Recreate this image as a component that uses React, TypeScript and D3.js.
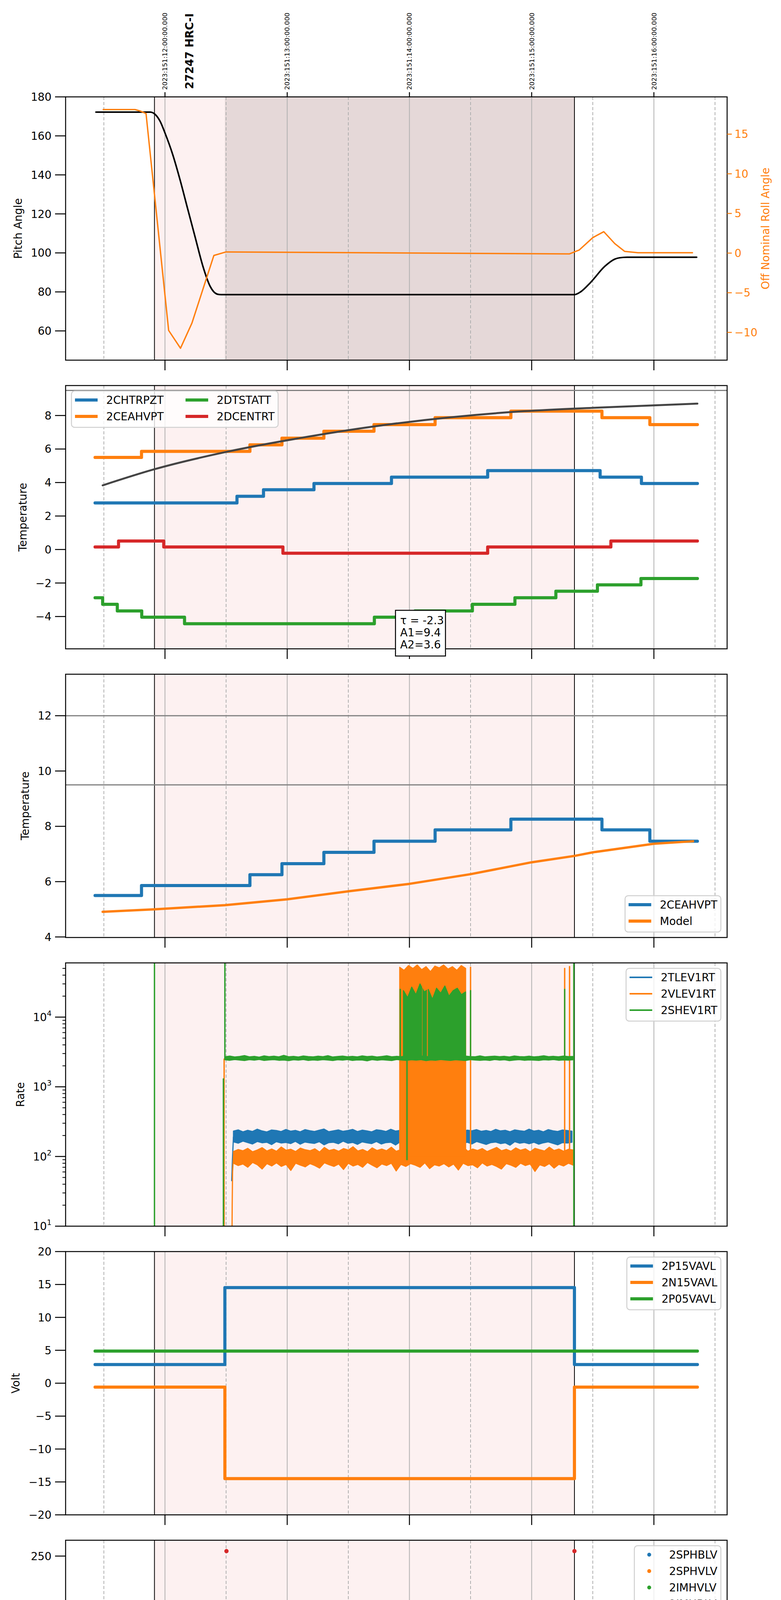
import React, { useEffect, useRef } from "react";
import * as d3 from "d3";

// ---------------- data ----------------
// time axis: decimal hours, local (08h == 2023:151:12:00:00 UTC)
const timeDomain = [7.187, 12.599];
const hourTicks = [8, 9, 10, 11, 12];
const hourLabels = ["08h", "09h", "10h", "11h", "12h"];
const halfHourTicks = [7.5, 8.5, 9.5, 10.5, 11.5, 12.5];
const halfHourLabel = "30";
const topTimeLabels = [
	"2023:151:12:00:00.000",
	"2023:151:13:00:00.000",
	"2023:151:14:00:00.000",
	"2023:151:15:00:00.000",
	"2023:151:16:00:00.000",
];
const obsLabel = "27247 HRC-I";
const obsLabelTime = 8.2;
const dateLabel = "2023-05-31 (151)";
const obsSpan = [7.914, 11.35];
const scienceSpan = [8.49, 11.35];

// panel 1: pitch / roll
const pitchAngle = [
	[7.435, 172.2], [7.88, 172.2], [7.92, 171], [7.96, 167.5], [8.0, 161.5], [8.063, 150.5],
	[8.125, 137.1], [8.186, 122.5], [8.248, 107.8], [8.31, 93.2], [8.37, 82.8], [8.43, 78.8],
	[8.46, 78.6], [11.35, 78.6], [11.40, 80], [11.48, 84.7], [11.60, 93.2], [11.68, 96.8],
	[11.72, 97.5], [11.78, 97.8], [12.35, 97.8],
];
const rollAngle = [
	[7.49, 18.1], [7.755, 18.1], [7.80, 17.9], [7.845, 17.6], [8.03, -9.75], [8.127, -12.0],
	[8.22, -8.85], [8.40, -0.3], [8.50, 0.15], [11.31, -0.1], [11.39, 0.4], [11.50, 1.95],
	[11.59, 2.7], [11.68, 1.2], [11.76, 0.22], [11.87, 0.05], [12.32, 0.05],
];

// panel 2: temperatures (step telemetry)
const chtrpzt = [
	[7.428, 2.78], [8.589, 3.18], [8.806, 3.57], [9.219, 3.94], [9.853, 4.32], [10.64, 4.71],
	[11.56, 4.32], [11.898, 3.94], [12.356, 3.94],
];
const ceahvpt = [
	[7.428, 5.5], [7.808, 5.86], [8.695, 6.25], [8.957, 6.65], [9.30, 7.06], [9.71, 7.46],
	[10.21, 7.87], [10.83, 8.26], [11.575, 7.87], [11.967, 7.46], [12.356, 7.46],
];
const dtstatt = [
	[7.428, -2.88], [7.49, -3.27], [7.61, -3.67], [7.81, -4.04], [8.16, -4.43], [9.713, -4.04],
	[10.045, -3.67], [10.515, -3.27], [10.863, -2.88], [11.198, -2.49], [11.538, -2.11],
	[11.894, -1.73], [12.356, -1.73],
];
const dcentrt = [
	[7.428, 0.15], [7.62, 0.51], [7.99, 0.15], [8.965, -0.22], [10.64, 0.15], [11.648, 0.51],
	[12.356, 0.51],
];
const expFit = [
	[7.49, 3.83], [7.917, 4.8], [8.49, 5.81], [9.1, 6.65], [9.72, 7.36], [10.33, 7.89],
	[10.94, 8.26], [11.56, 8.48], [12.356, 8.71],
];
const fitText = ["τ = -2.3", "A1=9.4", "A2=3.6"];
const fitTextAt = [9.886, -3.63];
const tempLimits = [9.5, 12];

// panel 3: CEA HV temperature vs model
const ceaModel = [
	[7.49, 4.91], [7.92, 5.0], [8.49, 5.15], [9.0, 5.36], [9.5, 5.65], [10.0, 5.92],
	[10.5, 6.27], [11.0, 6.7], [11.35, 6.93], [11.5, 7.06], [12.0, 7.37], [12.32, 7.46],
];

// panel 4: rates (noise envelopes, one value per sample)
const blueRateSpan = [8.56, 11.33];
const blueRateHi = [232, 241, 226, 238, 229, 247, 233, 225, 240, 236, 228, 244, 231, 237, 226, 243, 235, 229, 239, 248, 227, 234, 241, 230, 236, 245, 228, 239, 233, 226, 242, 237, 229, 246, 232, 238, 227, 240, 235, 231, 244, 229, 236, 241, 228, 237, 249, 232, 226, 239, 234, 243, 230, 236, 228, 245, 233, 238, 227, 241, 235, 230, 247, 232, 238, 226, 243, 234, 229, 240, 236, 231];
const blueRateLo = [162, 155, 166, 158, 151, 164, 157, 160, 148, 163, 156, 159, 153, 165, 150, 161, 157, 154, 163, 147, 158, 160, 152, 166, 155, 159, 149, 162, 157, 153, 164, 151, 158, 160, 146, 163, 155, 158, 152, 161, 156, 150, 165, 154, 159, 148, 162, 157, 153, 160, 151, 164, 156, 149, 158, 161, 153, 157, 145, 163, 155, 159, 152, 160, 150, 157, 162, 154, 147, 158, 156, 160];
const orangeRateSpan = [8.56, 11.34];
const orangeRateHi = [118, 126, 121, 131, 117, 124, 134, 120, 128, 119, 137, 123, 127, 118, 132, 125, 121, 129, 116, 135, 122, 127, 119, 130, 124, 138, 120, 126, 117, 133, 122, 128, 121, 136, 119, 125, 131, 118, 127, 123, 134, 120, 126, 129, 117, 132, 124, 121, 137, 119, 128, 122, 130, 118, 126, 135, 121, 127, 119, 133, 123, 129, 117, 131, 125, 120, 136, 122, 128, 119, 127, 124];
const orangeRateLo = [80, 74, 78, 70, 82, 76, 66, 79, 73, 81, 72, 77, 63, 80, 75, 71, 79, 74, 68, 81, 76, 72, 78, 65, 80, 73, 77, 70, 82, 75, 69, 78, 74, 80, 62, 77, 72, 79, 75, 70, 81, 67, 76, 73, 79, 71, 78, 64, 80, 74, 76, 69, 81, 73, 77, 72, 66, 79, 75, 70, 80, 74, 78, 61, 76, 72, 79, 68, 77, 73, 80, 75];
const greenRateSpan = [8.49, 11.34];
const greenRateHi = [2700, 2760, 2680, 2730, 2810, 2690, 2740, 2670, 2780, 2710, 2750, 2690, 2830, 2700, 2740, 2680, 2770, 2720, 2690, 2750, 2710, 2800, 2680, 2730, 2760, 2700, 2740, 2690, 2780, 2720, 2750, 2680, 2730, 2790, 2700, 2740, 2710, 2760, 2690, 2730, 2770, 2700, 2750, 2680, 2720, 2810, 2700, 2740, 2690, 2760, 2720, 2700, 2780, 2690, 2730, 2750, 2710, 2740, 2680, 2770, 2720, 2700, 2750, 2690, 2730, 2790, 2710, 2740, 2700, 2760, 2720, 2730];
const greenRateLo = [2440, 2400, 2460, 2420, 2380, 2450, 2410, 2470, 2390, 2430, 2450, 2400, 2420, 2370, 2440, 2410, 2460, 2390, 2430, 2400, 2450, 2420, 2380, 2440, 2410, 2460, 2390, 2430, 2420, 2360, 2450, 2400, 2440, 2410, 2380, 2460, 2420, 2390, 2440, 2410, 2450, 2370, 2430, 2400, 2460, 2420, 2390, 2440, 2410, 2380, 2450, 2420, 2400, 2430, 2390, 2460, 2410, 2440, 2370, 2420, 2450, 2400, 2430, 2410, 2390, 2440, 2420, 2460, 2400, 2430, 2410, 2440];
const orangeBurstSpan = [9.92, 10.46];
const orangeBurstTop = [52000, 47000, 55000, 50000, 56000, 48000, 53000, 45000, 54000, 51000, 56000, 49000, 53000, 47000, 55000, 50000];
const greenBurstSpan = [9.951, 10.459];
const greenBurstTop = [24000, 19000, 27000, 21000, 30000, 23000, 25000, 18000, 26000, 22000, 28000, 20000, 24000, 26000, 21000, 23000];
const greenBurstSegments = [[9.951, 10.097], [10.113, 10.137], [10.157, 10.332], [10.342, 10.459]];
const blueRateRamp = [[8.546, 45], [8.552, 90], [8.56, 190]];
const orangeRateRamp = [[8.545, 1], [8.55, 20], [8.553, 60], [8.56, 100]];
const orangeRateSpikes = [[8.484, 1, 2500], [10.50, 100, 52000], [11.27, 100, 50000], [11.31, 100, 53000]];
const greenRateSpikes = [
	[7.914, 1, 1e6], [8.478, 1, 1300], [8.49, 2500, 1e6], [9.925, 2500, 25000], [9.98, 90, 2500],
	[10.50, 2500, 24000], [11.27, 2500, 25000], [11.345, 1, 1e6],
];

// panel 5: voltages
const p15vavl = [[7.428, 2.83], [8.49, 14.52], [11.35, 2.83], [12.356, 2.83]];
const n15vavl = [[7.428, -0.6], [8.49, -14.5], [11.35, -0.6], [12.356, -0.6]];
const p05vavl = [[7.428, 4.88], [12.356, 4.88]];

// panel 6: HV monitors (scatter; runs are densely sampled constant values)
const imhvlvPoints = [[8.51, 100], [8.515, 95], [8.527, 90], [8.535, 86], [8.545, 82], [10.05, 127], [10.11, 127], [10.29, 127]];
const imhvlvRuns = [[8.557, 11.345, 79]];
const imhblvPoints = [
	[8.503, 255], [8.51, 127], [8.512, 119], [8.515, 106], [8.517, 104], [8.525, 101], [8.53, 97],
	[8.545, 92], [8.55, 89], [10.03, 79], [10.05, 79], [10.11, 79], [10.13, 79], [10.29, 79], [11.35, 255],
];
const imhblvRuns = [[8.555, 11.345, 86]];

// panel 7: detector temperatures
const spinatm = [[8.50, 2.83], [10.541, 3.28], [11.335, 3.28]];
const spinatmSpikes = [[11.305, -2, 3.28]];
const spinatmBlocks = [[9.939, 10.152, -2, 2.83], [10.234, 10.48, -2, 2.83]];
const sphvatm = [[8.483, 14.6], [8.50, 15.04], [9.005, 15.32], [9.448, 15.57], [9.825, 15.85], [10.308, 16.14], [10.787, 16.42], [11.335, 16.42]];
const sphvatmSpikes = [[9.468, 15.05, 15.32], [9.591, 15.3, 15.57], [10.656, 15.95, 16.14], [10.717, 15.95, 16.14], [10.521, 10.8, 16.14], [11.30, 11.0, 16.42]];
const sphvatmBlocks = [[9.939, 10.48, 10.54, 16.0]];
const sphvatmThin = [[10.005, -2, 10.54]];
const iminatm = [[8.50, 0.67], [9.489, 1.1], [10.943, 1.52], [11.335, 1.52]];
const iminatmSpikes = [[9.55, 0.67, 1.1], [10.521, 1.1, 2.94], [11.30, 1.52, 2.7]];
const iminatmBlocks = [[9.939, 10.152, 1.1, 2.94], [10.234, 10.48, 1.1, 2.94]];
const imhvatm = [
	[8.483, -2], [8.485, 14.37], [8.637, 14.72], [8.739, 15.04], [8.841, 15.29], [8.944, 15.57],
	[9.067, 15.85], [9.21, 16.14], [9.374, 16.42], [9.567, 16.7], [9.788, 16.99], [10.05, 17.34],
	[10.378, 17.6], [10.8, 17.84], [11.266, 18.17], [11.362, 25], [11.37, -2], [11.372, -2],
];
const imhvatmSpikes = [[11.307, 16.4, 18.17], [10.488, 16.1, 17.6]];
const imhvatmBlocks = [[9.939, 10.05, 15.85, 16.99], [10.05, 10.48, 15.85, 17.34]];

// panel 8: FEA temperatures
const fhtrmzt = [
	[7.428, -8.4], [8.11, -8.0], [8.728, -7.59], [8.892, -7.19], [9.051, -6.78], [9.207, -6.38],
	[9.37, -5.99], [9.534, -5.59], [9.706, -5.17], [9.87, -4.79], [10.05, -4.41], [10.225, -4.01],
	[10.42, -3.63], [10.615, -3.24], [10.82, -2.87], [11.035, -2.49], [11.25, -2.11], [11.775, -2.49],
	[12.05, -2.87], [12.335, -3.26], [12.356, -3.26],
];
const fhtrmztSpikes = [[9.763, -5.6, -5.17], [11.084, -2.49, -1.7]];
const fradpyt = [
	[7.428, -10.07], [8.063, -9.63], [8.174, -9.22], [8.403, -9.63], [8.514, -10.07], [8.747, -9.63],
	[8.973, -9.22], [9.165, -8.8], [9.362, -8.4], [9.55, -8.0], [9.751, -7.59], [9.951, -7.19],
	[10.156, -6.78], [10.35, -6.37], [10.57, -5.97], [10.8, -5.58], [11.03, -5.18], [11.28, -4.78],
	[11.57, -5.18], [11.815, -5.58], [12.11, -5.98], [12.356, -5.98],
];
const fepratm = [
	[8.50, -7.03], [8.51, -6.6], [8.55, -6.19], [8.594, -5.78], [8.64, -5.38], [8.69, -5.03],
	[8.77, -4.62], [8.87, -4.24], [8.98, -3.84], [9.11, -3.44], [9.24, -3.02], [9.40, -2.62],
	[9.56, -2.22], [9.74, -1.8], [9.95, -1.45], [10.13, -1.05], [10.30, -0.6], [10.55, -0.16],
	[10.785, 0.24], [11.007, 0.67], [11.34, 0.67],
];
const fepratmSpikes = [
	[9.92, -4.6, -1.8], [10.17, -4.6, -1.05], [10.225, -4.6, -1.05], [10.44, -4.6, -0.6],
	[10.50, -4.6, -0.6], [11.27, -4.6, 0.67], [11.30, -4.6, 0.67],
];
const fepratmBlocks = [[9.996, 10.12, -4.6, -1.45], [10.25, 10.33, -4.6, -1.05], [10.37, 10.39, -4.6, -0.6]];
const fe00atm = [
	[8.485, -12], [8.49, -5.99], [8.59, -5.59], [8.72, -5.2], [8.82, -4.89], [8.93, -4.53],
	[9.01, -4.17], [9.14, -3.85], [9.25, -3.45], [9.37, -3.11], [9.51, -2.79], [9.65, -2.44],
	[9.77, -2.1], [9.912, -1.85], [10.08, -1.5], [10.23, -1.17], [10.38, -0.83], [10.53, -0.43],
	[10.686, -0.1], [10.86, 0.21], [11.03, 0.53], [11.21, 0.85], [11.26, 1.13], [11.338, 12],
	[11.352, -12], [11.36, -12],
];
const fe00atmSpikes = [
	[8.64, -6.4, -5.59], [9.05, -4.6, -4.17], [9.11, -4.6, -4.17], [9.251, -4.6, -3.45],
	[9.313, -4.6, -3.45], [9.77, -2.45, -2.1], [9.82, -2.45, -2.1], [9.98, -12, 12],
	[10.50, -0.8, 12], [10.976, 0.21, 0.55],
];
const fe00atmBurst = [[9.912, -1.85], [10.08, -1.5], [10.23, -1.17], [10.38, -0.83], [10.453, -0.83]];

// ---------------- layout ----------------
const W = 2000;
const H = 6200;
const L = 168;
const R = 1862;
const TOP0 = 248;
const PITCH = 739;
const PH = 674;
const FS = 27.8;
const FS_SMALL = 16.7;
const FONT = "'DejaVu Sans', sans-serif";
const COL = { blue: "#1f77b4", orange: "#ff7f0e", green: "#2ca02c", red: "#d62728" };
const LW = 8;

const minus = (v: number, digits = 0) =>
	(v < 0 ? "\u2212" : "") + Math.abs(v).toFixed(digits);

const App: React.FC = () => {
	const svgRef = useRef<SVGSVGElement | null>(null);

	useEffect(() => {
		const svg = d3.select(svgRef.current);
		svg.selectAll("*").remove();
		svg.attr("font-family", FONT);

		const x = d3.scaleLinear().domain(timeDomain).range([L, R]);
		const defs = svg.append("defs");
		svg.append("rect").attr("width", W).attr("height", H).attr("fill", "#fff");

		const makePanel = (i: number, domain: number[], log = false) => {
			const top = TOP0 + i * PITCH;
			const bottom = top + PH;
			const y: any = log
				? d3.scaleLog().domain(domain).range([bottom, top])
				: d3.scaleLinear().domain(domain).range([bottom, top]);
			const id = "clip" + i;
			defs.append("clipPath").attr("id", id)
				.append("rect").attr("x", L).attr("y", top).attr("width", R - L).attr("height", PH);
			const root = svg.append("g");
			const bg = root.append("g").attr("clip-path", `url(#${id})`);
			const plot = root.append("g").attr("clip-path", `url(#${id})`);
			const fr = root.append("g");

			bg.append("rect")
				.attr("x", x(obsSpan[0])).attr("y", top)
				.attr("width", x(obsSpan[1]) - x(obsSpan[0])).attr("height", PH)
				.attr("fill", "#fdf1f1");
			if (i === 0) {
				bg.append("rect")
					.attr("x", x(scienceSpan[0])).attr("y", top)
					.attr("width", x(scienceSpan[1]) - x(scienceSpan[0])).attr("height", PH)
					.attr("fill", "#e5d8d8");
			}
			hourTicks.forEach((t) => {
				bg.append("line").attr("x1", x(t)).attr("x2", x(t)).attr("y1", top).attr("y2", bottom)
					.attr("stroke", "#b0b0b0").attr("stroke-width", 2);
			});
			halfHourTicks.forEach((t) => {
				bg.append("line").attr("x1", x(t)).attr("x2", x(t)).attr("y1", top).attr("y2", bottom)
					.attr("stroke", "#b0b0b0").attr("stroke-width", 2).attr("stroke-dasharray", "8,5");
			});
			obsSpan.forEach((t) => {
				bg.append("line").attr("x1", x(t)).attr("x2", x(t)).attr("y1", top).attr("y2", bottom)
					.attr("stroke", "#000").attr("stroke-width", 2);
			});
			return { i, top, bottom, y, bg, plot, fr, id };
		};

		const line = (p: any, data: number[][], color: string, width: number, curve: any = d3.curveStepAfter) =>
			p.plot.append("path").datum(data)
				.attr("d", d3.line<number[]>().x((d) => x(d[0])).y((d) => p.y(d[1])).curve(curve))
				.attr("fill", "none").attr("stroke", color).attr("stroke-width", width)
				.attr("stroke-linejoin", "round").attr("stroke-linecap", "round");

		const spikes = (p: any, list: number[][], color: string, width: number) =>
			list.forEach(([t, lo, hi]) => {
				p.plot.append("line").attr("x1", x(t)).attr("x2", x(t))
					.attr("y1", p.y(lo)).attr("y2", p.y(hi))
					.attr("stroke", color).attr("stroke-width", width).attr("stroke-linecap", "round");
			});

		const blocks = (p: any, list: number[][], color: string) =>
			list.forEach(([t0, t1, lo, hi]) => {
				p.plot.append("rect").attr("x", x(t0)).attr("width", x(t1) - x(t0))
					.attr("y", p.y(hi)).attr("height", p.y(lo) - p.y(hi))
					.attr("fill", color).attr("stroke", color).attr("stroke-width", LW / 2);
			});

		const band = (p: any, span: number[], hi: number[], lo: number[], color: string, target: any = null) => {
			const at = d3.scaleLinear().domain([0, hi.length - 1]).range(span);
			const pts = hi.map((h, k) => [at(k), lo[k], h]);
			(target || p.plot).append("path").datum(pts)
				.attr("d", d3.area<number[]>().x((d) => x(d[0])).y0((d) => p.y(d[1])).y1((d) => p.y(d[2])))
				.attr("fill", color).attr("stroke", color).attr("stroke-width", 2.5)
				.attr("stroke-linejoin", "round");
		};

		const frame = (p: any, ticks: number[], fmt: (t: any, v: number) => void, label: string, minor: number[] = []) => {
			const fr = p.fr;
			hourTicks.forEach((t) => {
				fr.append("line").attr("x1", x(t)).attr("x2", x(t)).attr("y1", p.bottom).attr("y2", p.bottom + 26)
					.attr("stroke", "#000").attr("stroke-width", 2.5);
			});
			const tg = fr.append("g").attr("font-size", FS);
			ticks.forEach((v) => {
				const yy = p.y(v);
				fr.append("line").attr("x1", L - 27).attr("x2", L).attr("y1", yy).attr("y2", yy)
					.attr("stroke", "#000").attr("stroke-width", 2.5);
				const t = tg.append("text").attr("x", L - 36).attr("y", yy + 10).attr("text-anchor", "end");
				fmt(t, v);
			});
			minor.forEach((v) => {
				const yy = p.y(v);
				fr.append("line").attr("x1", L - 8).attr("x2", L).attr("y1", yy).attr("y2", yy)
					.attr("stroke", "#000").attr("stroke-width", 2);
			});
			let maxW = 0;
			tg.selectAll("text").each(function (this: any) {
				maxW = Math.max(maxW, this.getComputedTextLength());
			});
			fr.append("text")
				.attr("transform", `translate(${L - 36 - maxW - 23},${(p.top + p.bottom) / 2}) rotate(-90)`)
				.attr("text-anchor", "middle").attr("font-size", FS).text(label);
			fr.append("rect").attr("x", L).attr("y", p.top).attr("width", R - L).attr("height", PH)
				.attr("fill", "none").attr("stroke", "#000").attr("stroke-width", 2.5);
		};

		const plain = (digits = 0) => (t: any, v: number) => t.text(minus(v, digits));

		const legend = (p: any, items: any[], loc: string, cols = 1) => {
			const g = p.fr.append("g");
			const box = g.append("rect");
			const rows = Math.ceil(items.length / cols);
			const texts = items.map((it) => g.append("text").attr("font-size", FS).text(it.label));
			const maxW = d3.max(texts, (t: any) => t.node().getComputedTextLength()) as number;
			const colStep = 89 + maxW + 46;
			const w = 9 + cols * (80 + maxW) + (cols - 1) * 55 + 9;
			const h = rows * 42 + 9;
			const x0 = loc === "ul" ? L + 15 : R - 16 - w;
			const y0 = loc === "lr" ? p.bottom - 14 - h : p.top + 14;
			box.attr("x", x0).attr("y", y0).attr("width", w).attr("height", h).attr("rx", 8)
				.attr("fill", "#fff").attr("fill-opacity", 0.8).attr("stroke", "#d0d0d0").attr("stroke-width", 2.5);
			items.forEach((it, k) => {
				const c = Math.floor(k / rows);
				const r = k % rows;
				const cx = x0 + 9 + c * colStep;
				const cy = y0 + 23 + r * 42;
				if (it.kind === "dot") {
					g.append("circle").attr("cx", cx + 29).attr("cy", cy).attr("r", 5).attr("fill", it.color);
				} else {
					g.append("line").attr("x1", cx).attr("x2", cx + 58).attr("y1", cy).attr("y2", cy)
						.attr("stroke", it.color).attr("stroke-width", it.width || LW);
				}
				texts[k].attr("x", cx + 80).attr("y", cy + 10);
			});
		};

		// ---------- panel 1 ----------
		const p1 = makePanel(0, [45, 180]);
		const yRoll = d3.scaleLinear().domain([-13.5, 19.7]).range([p1.bottom, p1.top]);
		line(p1, pitchAngle, "#000", 4, d3.curveMonotoneX);
		p1.plot.append("path").datum(rollAngle)
			.attr("d", d3.line<number[]>().x((d) => x(d[0])).y((d) => yRoll(d[1])))
			.attr("fill", "none").attr("stroke", COL.orange).attr("stroke-width", 3.5).attr("stroke-linejoin", "round");
		frame(p1, [60, 80, 100, 120, 140, 160, 180], plain(), "Pitch Angle");
		[-10, -5, 0, 5, 10, 15].forEach((v) => {
			const yy = yRoll(v);
			p1.fr.append("line").attr("x1", R).attr("x2", R + 12).attr("y1", yy).attr("y2", yy)
				.attr("stroke", COL.orange).attr("stroke-width", 2.5);
			p1.fr.append("text").attr("x", R + 19).attr("y", yy + 10).attr("font-size", FS)
				.attr("fill", COL.orange).text(minus(v));
		});
		p1.fr.append("text")
			.attr("transform", `translate(1970,${(p1.top + p1.bottom) / 2}) rotate(-90)`)
			.attr("text-anchor", "middle").attr("font-size", FS).attr("fill", COL.orange)
			.text("Off Nominal Roll Angle");
		hourTicks.forEach((t, k) => {
			p1.fr.append("line").attr("x1", x(t)).attr("x2", x(t)).attr("y1", p1.top - 12).attr("y2", p1.top)
				.attr("stroke", "#000").attr("stroke-width", 2.5);
			p1.fr.append("text")
				.attr("transform", `translate(${x(t) + 6},230) rotate(-90)`)
				.attr("font-size", FS_SMALL).text(topTimeLabels[k]);
		});
		p1.fr.append("text")
			.attr("transform", `translate(${x(obsLabelTime) + 10},228) rotate(-90)`)
			.attr("font-size", FS).attr("font-weight", "bold").text(obsLabel);

		// ---------- panel 2 ----------
		const p2 = makePanel(1, [-5.93, 9.79]);
		tempLimits.forEach((v) => {
			p2.bg.append("line").attr("x1", L).attr("x2", R).attr("y1", p2.y(v)).attr("y2", p2.y(v))
				.attr("stroke", "#808080").attr("stroke-width", 3);
		});
		line(p2, chtrpzt, COL.blue, LW);
		line(p2, ceahvpt, COL.orange, LW);
		line(p2, dtstatt, COL.green, LW);
		line(p2, dcentrt, COL.red, LW);
		line(p2, expFit, "#444444", 5, d3.curveMonotoneX);
		frame(p2, [-4, -2, 0, 2, 4, 6, 8], plain(), "Temperature");
		legend(p2, [
			{ label: "2CHTRPZT", color: COL.blue },
			{ label: "2CEAHVPT", color: COL.orange },
			{ label: "2DTSTATT", color: COL.green },
			{ label: "2DCENTRT", color: COL.red },
		], "ul", 2);
		{
			const bx = x(fitTextAt[0]);
			const by = p2.y(fitTextAt[1]);
			p2.fr.append("rect").attr("x", bx).attr("y", by).attr("width", 128).attr("height", 117)
				.attr("fill", "#fff").attr("stroke", "#000").attr("stroke-width", 2.5);
			fitText.forEach((s, k) => {
				p2.fr.append("text").attr("x", bx + 12).attr("y", by + 36 + k * 31).attr("font-size", FS).text(s);
			});
		}

		// ---------- panel 3 ----------
		const p3 = makePanel(2, [3.98, 13.5]);
		tempLimits.forEach((v) => {
			p3.bg.append("line").attr("x1", L).attr("x2", R).attr("y1", p3.y(v)).attr("y2", p3.y(v))
				.attr("stroke", "#808080").attr("stroke-width", 3);
		});
		line(p3, ceahvpt, COL.blue, LW);
		line(p3, ceaModel, COL.orange, 6, d3.curveLinear);
		frame(p3, [4, 6, 8, 10, 12], plain(), "Temperature");
		legend(p3, [
			{ label: "2CEAHVPT", color: COL.blue },
			{ label: "Model", color: COL.orange },
		], "lr");

		// ---------- panel 4 ----------
		const p4 = makePanel(3, [10, 60000], true);
		band(p4, blueRateSpan, blueRateHi, blueRateLo, COL.blue);
		line(p4, blueRateRamp, COL.blue, 3, d3.curveLinear);
		band(p4, orangeRateSpan, orangeRateHi, orangeRateLo, COL.orange);
		line(p4, orangeRateRamp, COL.orange, 3, d3.curveLinear);
		band(p4, orangeBurstSpan, orangeBurstTop, orangeBurstTop.map(() => 100), COL.orange);
		spikes(p4, orangeRateSpikes, COL.orange, 3.5);
		band(p4, greenRateSpan, greenRateHi, greenRateLo, COL.green);
		{
			const gid = "greenBurstClip";
			const cp = defs.append("clipPath").attr("id", gid);
			greenBurstSegments.forEach(([t0, t1]) => {
				cp.append("rect").attr("x", x(t0) - 2).attr("width", x(t1) - x(t0) + 4)
					.attr("y", p4.top).attr("height", PH);
			});
			const gg = p4.plot.append("g").attr("clip-path", `url(#${gid})`);
			band(p4, greenBurstSpan, greenBurstTop, greenBurstTop.map(() => 2450), COL.green, gg);
		}
		spikes(p4, greenRateSpikes, COL.green, 3.5);
		const logMinor: number[] = [];
		[10, 100, 1000, 10000].forEach((d) => {
			[2, 3, 4, 5, 6, 7, 8, 9].forEach((m) => {
				if (d * m < 60000) logMinor.push(d * m);
			});
		});
		frame(p4, [10, 100, 1000, 10000], (t: any, v: number) => {
			t.append("tspan").text("10");
			t.append("tspan").attr("dy", -13).attr("font-size", 19).text(String(Math.round(Math.log10(v))));
		}, "Rate", logMinor);
		legend(p4, [
			{ label: "2TLEV1RT", color: COL.blue, width: 4 },
			{ label: "2VLEV1RT", color: COL.orange, width: 4 },
			{ label: "2SHEV1RT", color: COL.green, width: 4 },
		], "ur");

		// ---------- panel 5 ----------
		const p5 = makePanel(4, [-20, 20]);
		line(p5, p15vavl, COL.blue, LW);
		line(p5, n15vavl, COL.orange, LW);
		line(p5, p05vavl, COL.green, LW);
		frame(p5, [-20, -15, -10, -5, 0, 5, 10, 15, 20], plain(), "Volt");
		legend(p5, [
			{ label: "2P15VAVL", color: COL.blue },
			{ label: "2N15VAVL", color: COL.orange },
			{ label: "2P05VAVL", color: COL.green },
		], "ur");

		// ---------- panel 6 ----------
		const p6 = makePanel(5, [0, 266]);
		const runs = (list: number[][], color: string, width: number) =>
			list.forEach(([t0, t1, v]) => {
				p6.plot.append("line").attr("x1", x(t0)).attr("x2", x(t1)).attr("y1", p6.y(v)).attr("y2", p6.y(v))
					.attr("stroke", color).attr("stroke-width", width).attr("stroke-linecap", "round");
			});
		const dots = (list: number[][], color: string) =>
			p6.plot.selectAll(null).data(list).enter().append("circle")
				.attr("cx", (d: number[]) => x(d[0])).attr("cy", (d: number[]) => p6.y(d[1]))
				.attr("r", 5.5).attr("fill", color);
		runs(imhvlvRuns, COL.green, 13);
		dots(imhvlvPoints, COL.green);
		runs(imhblvRuns, COL.red, 11.5);
		dots(imhblvPoints, COL.red);
		frame(p6, [0, 50, 100, 150, 200, 250], plain(), "HV Monitor");
		legend(p6, [
			{ label: "2SPHBLV", color: COL.blue, kind: "dot" },
			{ label: "2SPHVLV", color: COL.orange, kind: "dot" },
			{ label: "2IMHVLV", color: COL.green, kind: "dot" },
			{ label: "2IMHBLV", color: COL.red, kind: "dot" },
		], "ur");

		// ---------- panel 7 ----------
		const p7 = makePanel(6, [-0.75, 19.04]);
		blocks(p7, spinatmBlocks, COL.blue);
		line(p7, spinatm, COL.blue, LW);
		spikes(p7, spinatmSpikes, COL.blue, LW);
		blocks(p7, sphvatmBlocks, COL.orange);
		line(p7, sphvatm, COL.orange, LW);
		spikes(p7, sphvatmSpikes, COL.orange, LW);
		spikes(p7, sphvatmThin, COL.orange, 5);
		blocks(p7, iminatmBlocks, COL.green);
		line(p7, iminatm, COL.green, LW);
		spikes(p7, iminatmSpikes, COL.green, LW);
		blocks(p7, imhvatmBlocks, COL.red);
		line(p7, imhvatm, COL.red, LW);
		spikes(p7, imhvatmSpikes, COL.red, LW);
		frame(p7, [0, 2.5, 5, 7.5, 10, 12.5, 15, 17.5], plain(1), "Detector Temp");
		legend(p7, [
			{ label: "2SPINATM", color: COL.blue },
			{ label: "2SPHVATM", color: COL.orange },
			{ label: "2IMINATM", color: COL.green },
			{ label: "2IMHVATM", color: COL.red },
		], "ur");

		// ---------- panel 8 ----------
		const p8 = makePanel(7, [-10.32, 1.32]);
		line(p8, fhtrmzt, COL.blue, LW);
		spikes(p8, fhtrmztSpikes, COL.blue, LW);
		line(p8, fradpyt, COL.orange, LW);
		line(p8, fepratm, COL.green, LW);
		spikes(p8, fepratmSpikes, COL.green, LW);
		blocks(p8, fepratmBlocks, COL.green);
		p8.plot.append("path").datum(fe00atmBurst)
			.attr("d", d3.area<number[]>().x((d) => x(d[0])).y0(p8.top - 10).y1((d) => p8.y(d[1])).curve(d3.curveStepAfter))
			.attr("fill", COL.red).attr("stroke", COL.red).attr("stroke-width", LW).attr("stroke-linejoin", "round");
		line(p8, fe00atm, COL.red, LW);
		spikes(p8, fe00atmSpikes, COL.red, LW);
		frame(p8, [-10, -8, -6, -4, -2, 0], plain(), "FEA Temp");
		legend(p8, [
			{ label: "2FHTRMZT", color: COL.blue },
			{ label: "2FRADPYT", color: COL.orange },
			{ label: "2FEPRATM", color: COL.green },
			{ label: "2FE00ATM", color: COL.red },
		], "ur");

		// bottom time axis labels
		halfHourTicks.forEach((t) => {
			p8.fr.append("text").attr("x", x(t)).attr("y", p8.bottom + 21).attr("text-anchor", "middle")
				.attr("font-size", FS_SMALL).text(halfHourLabel);
		});
		hourTicks.forEach((t, k) => {
			p8.fr.append("text").attr("x", x(t)).attr("y", p8.bottom + 60).attr("text-anchor", "middle")
				.attr("font-size", FS).text(hourLabels[k]);
		});
		p8.fr.append("text").attr("x", (L + R) / 2).attr("y", p8.bottom + 96).attr("text-anchor", "middle")
			.attr("font-size", 33.3).text(dateLabel);
	}, []);

	return (
		<svg
			ref={svgRef}
			width={W}
			height={H}
			style={{ display: "block", marginLeft: -8, marginTop: -8 }}
		></svg>
	);
};

export default App;
